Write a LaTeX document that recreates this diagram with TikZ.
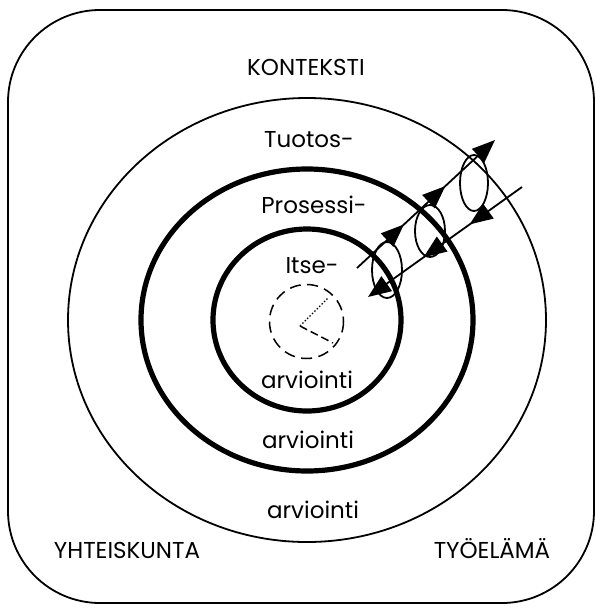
\documentclass[tikz,border=0pt]{standalone}
\usepackage{fontspec}
\setmainfont{Poppins}
\usetikzlibrary{arrows.meta,decorations.markings}

\tikzset{
    thinring/.style={line width=1.8pt},
    thickring/.style={line width=5.2pt},
    label/.style={anchor=base, inner sep=0pt, font=\fontsize{23}{23}\selectfont},
    flow/.style={line width=1.8pt, -{Triangle[length=23pt,width=18pt]},
        postaction={decorate},
        decoration={markings,
            mark=at position 0.34 with {\arrow{Triangle[length=23pt,width=18pt]}},
            mark=at position 0.64 with {\arrow{Triangle[length=23pt,width=18pt]}}}},
    loop/.style={line width=1.8pt}
}

\begin{document}
\begin{tikzpicture}[x=1pt, y=-1pt]
    \useasboundingbox (0,0) rectangle (596,611);

    \coordinate (ctr) at (307,320);
    \coordinate (clock) at (306.5,321.5);
    \coordinate (pivot) at (300,326);
    \coordinate (minute) at (328,298);
    \coordinate (hour) at (333,343);

    \draw[line width=1.8pt, rounded corners=92pt] (8,10) rectangle (594,603);

    \draw[thinring] (ctr) ellipse [x radius=239, y radius=222];
    \draw[thickring] (ctr) ellipse [x radius=166, y radius=151];
    \draw[thickring] (ctr) ellipse [x radius=94, y radius=91];

    \draw[line width=1.5pt, dash pattern=on 11pt off 6.5pt] (clock) circle [radius=37];
    \draw[line width=1.4pt, dotted] (pivot) -- (minute);
    \draw[line width=1.5pt, dash pattern=on 8pt off 4pt] (pivot) -- (hour);

    \coordinate (upA) at (357,268);
    \coordinate (upB) at (495,140);
    \coordinate (downA) at (522,187);
    \coordinate (downB) at (368,297);

    \draw[loop] (387,270) ellipse [x radius=15, y radius=28];
    \draw[loop] (430,231) ellipse [x radius=15, y radius=26];
    \draw[loop] (474,183) ellipse [x radius=14, y radius=28];

    \draw[flow] (upA) -- (upB);
    \draw[flow] (downA) -- (downB);

    \node[label] (konteksti) at (306,75) {KONTEKSTI};
    \node[label] (tuotos) at (309,147) {Tuotos-};
    \node[label] (prosessi) at (314,213) {Prosessi-};
    \node[label] (itse) at (312,273) {Itse-};
    \node[label] (arv1) at (307,388) {arviointi};
    \node[label] (arv2) at (308,448) {arviointi};
    \node[label] (arv3) at (313,518) {arviointi};
    \node[label] (yhteis) at (127,558) {YHTEISKUNTA};
    \node[label] (tyoelama) at (492,558) {TYÖELÄMÄ};
\end{tikzpicture}
\end{document}
